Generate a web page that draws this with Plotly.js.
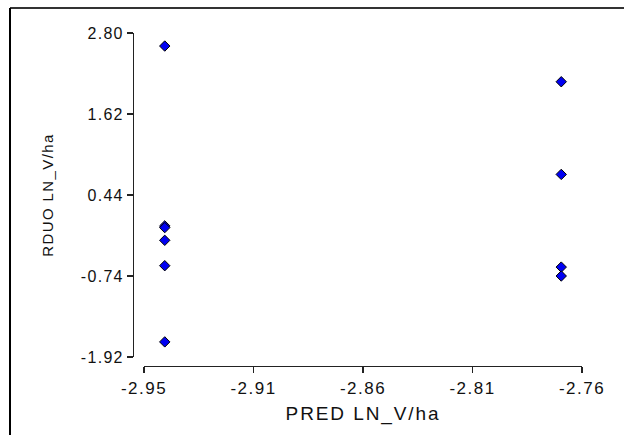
<!DOCTYPE html>
<html>
<head>
<meta charset="utf-8">
<script src="https://cdn.plot.ly/plotly-3.0.1.min.js"></script>
<style>
  html, body { margin: 0; padding: 0; background: #fff; }
  #chart { width: 624px; height: 435px; }
  #chart .ytick text { letter-spacing: 1.3px; }
  #chart .xtick text { letter-spacing: 1.5px; }
  #chart .g-xtitle text { letter-spacing: 1.9px; }
  #chart .g-ytitle text { letter-spacing: 1.4px; }
</style>
</head>
<body>
<div id="chart"></div>
<script>
// Predicted values (x) and residuals (y)
const predicted = [-2.941, -2.941, -2.941, -2.941, -2.941, -2.941,
                   -2.769, -2.769, -2.769, -2.769];
const residuals = [2.61, -0.01, -0.035, -0.22, -0.59, -1.70,
                   2.09, 0.74, -0.61, -0.74];

const xTickVals = [-2.95, -2.9025, -2.855, -2.8075, -2.76];
const xTickText = ["-2.95", "-2.91", "-2.86", "-2.81", "-2.76"];
const yTickVals = [2.80, 1.62, 0.44, -0.74, -1.92];
const yTickText = ["2.80", "1.62", "0.44", "-0.74", "-1.92"];

const xTitle = "PRED LN_V/ha";
const yTitle = "RDUO LN_V/ha";

const FONT = "Liberation Sans, Arial, sans-serif";

const trace = {
  type: "scatter",
  mode: "markers",
  x: predicted,
  y: residuals,
  marker: {
    symbol: "diamond",
    size: 8,
    color: "#0000f2",
    line: { color: "#000000", width: 1 }
  },
  hoverinfo: "x+y",
  showlegend: false
};

const W = 624, H = 435;
const L = 133, R = 42, T = 33, B = 69;
const pw = W - L - R, ph = H - T - B;

const layout = {
  width: W,
  height: H,
  margin: { l: L, r: R, t: T, b: B, pad: 0 },
  paper_bgcolor: "#ffffff",
  plot_bgcolor: "#ffffff",
  font: { family: FONT, color: "#111111", size: 16 },
  xaxis: {
    range: [-2.95, -2.76],
    domain: [(144 - L) / pw, 1],
    anchor: "free",
    position: 0,
    tickmode: "array",
    tickvals: xTickVals,
    ticktext: xTickText,
    ticks: "outside",
    ticklen: 6,
    tickwidth: 1.3,
    tickcolor: "#222",
    showline: true,
    linecolor: "#222",
    linewidth: 1.3,
    showgrid: false,
    zeroline: false,
    tickfont: { family: FONT, size: 17, color: "#111" },
    title: { text: xTitle, font: { family: FONT, size: 19, color: "#111" }, standoff: 10 },
    automargin: false
  },
  yaxis: {
    range: [-1.92, 2.80],
    domain: [(366 - 357) / ph, 1],
    anchor: "free",
    position: 0,
    tickmode: "array",
    tickvals: yTickVals,
    ticktext: yTickText,
    ticks: "outside",
    ticklen: 6,
    tickwidth: 1.3,
    tickcolor: "#222",
    showline: true,
    linecolor: "#222",
    linewidth: 1.3,
    showgrid: false,
    zeroline: false,
    tickfont: { family: FONT, size: 16, color: "#111" },
    title: { text: yTitle, font: { family: FONT, size: 15, color: "#111" }, standoff: 28 },
    automargin: false
  },
  shapes: [
    { type: "line", xref: "paper", yref: "paper",
      x0: (10 - L) / pw, x1: (W - L) / pw, y0: (366 - 8) / ph, y1: (366 - 8) / ph,
      line: { color: "#333", width: 2 } },
    { type: "line", xref: "paper", yref: "paper",
      x0: (10 - L) / pw, x1: (10 - L) / pw, y0: (366 - 8) / ph, y1: (366 - H) / ph,
      line: { color: "#000", width: 2 } }
  ]
};

Plotly.newPlot("chart", [trace], layout, { displayModeBar: false, staticPlot: true });
</script>
</body>
</html>
